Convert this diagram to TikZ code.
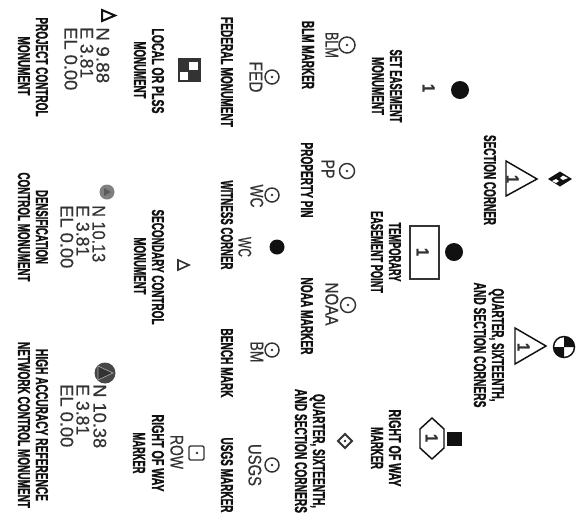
\documentclass[tikz,border=0pt]{standalone}
\usepackage{fontspec}
\setmainfont{Liberation Sans}
\newfontfamily\labfont[FakeBold=1.6]{Liberation Sans Bold}
\newfontfamily\tagfont[FakeBold=0.5]{Liberation Sans}
\definecolor{ink}{HTML}{111111}
\definecolor{soft}{HTML}{333333}
\tikzset{
  x=0.75pt,y=-0.75pt,
  lbl/.style={rotate=-90,inner sep=0,anchor=base,text=ink},
  sm/.style={rotate=-90,inner sep=0,anchor=base west,text=soft},
  sym/.style={draw=soft,line width=1.1pt,fill=white},
  tri/.style={draw=ink,line width=1.1pt,line join=miter},
  cen/.style={rotate=-90,inner sep=0,anchor=base,text=soft},
}
% name, x (centre of the caps), y (centre), length in px, text
\newcommand{\lab}[5]{\node[lbl] (#1) at (#2-6,#3) {\resizebox{\dimexpr #4pt*3/4\relax}{9pt}{\labfont #5}};}
\newcommand{\tagtxt}[5]{\node[cen] (#1) at (#2-6.5,#3) {\resizebox{\dimexpr #4pt*3/4\relax}{9.6pt}{\tagfont #5}};}
\newcommand{\coordtxt}[5]{\node[sm] (#1) at (#2-6.5,#3) {\resizebox{\dimexpr #4pt*3/4\relax}{9.6pt}{\tagfont #5}};}
\newcommand{\markr}[4]{\node[sym,circle,minimum size=#4*0.75pt,inner sep=0] (#1) at (#2,#3) {}; \fill[soft] (#1.center) circle (1.1pt);}
\begin{document}
\begin{tikzpicture}
\useasboundingbox (0,0) rectangle (585,526);
\fill[white] (0,0) rectangle (585,526);
% top column: section corner
\fill[ink] (548,179) -- (560,171.5) -- (572,179) -- (560,186.5) -- cycle;
\fill[white] (563,175.5) -- (568,178) -- (563,180) -- (560,178) -- cycle;
\fill[white] (556,179) -- (559,181) -- (556,183) -- (552,181) -- cycle;
\draw[tri] (506,161) -- (537,179) -- (506,196) -- cycle;
\node[cen] (sc1) at (513-6.5,179) {\resizebox{\dimexpr 8pt*3/4\relax}{9pt}{\labfont 1}};
\lab{scA}{490}{180}{90}{SECTION CORNER}
% set easement
\fill[ink] (460,90) circle (9*0.75pt);
\node[cen] (se1) at (429-6.5,88) {\resizebox{\dimexpr 8pt*3/4\relax}{9pt}{\labfont 1}};
\lab{seA}{396}{86}{73}{SET EASEMENT}
\lab{seB}{378}{86}{58}{MONUMENT}
% temporary easement
\fill[ink] (454,252) circle (9*0.75pt);
\draw[tri,draw=soft] (410,226) rectangle (439,279);
\node[cen] (te1) at (423-6.5,252) {\resizebox{\dimexpr 8pt*3/4\relax}{9pt}{\labfont 1}};
\lab{teA}{395}{252}{59}{TEMPORARY}
\lab{teB}{377}{252}{82}{EASEMENT POINT}
% quarter corners, triangle
\draw[sym,draw=ink] (564,347) circle (10.5*0.75pt);
\fill[ink] (564,347) -- (574.5,347) arc[start angle=0,end angle=90,radius=10.5*0.75pt] -- cycle;
\fill[ink] (564,347) -- (553.5,347) arc[start angle=180,end angle=270,radius=10.5*0.75pt] -- cycle;
\draw[tri] (515,328) -- (546,346) -- (515,364) -- cycle;
\node[cen] (qc1) at (524-6.5,347) {\resizebox{\dimexpr 8pt*3/4\relax}{9pt}{\labfont 1}};
\lab{qcA}{498}{345}{113}{QUARTER, SIXTEENTH,}
\lab{qcB}{480}{345}{125}{AND SECTION CORNERS}
% right of way, hexagon
\fill[ink] (447,432) rectangle (462,446);
\draw[sym,draw=ink,fill=none,line join=round] (432,418) -- (444,429) -- (444,448) -- (432,459) -- (420,448) -- (420,429) -- cycle;
\node[cen] (rw1) at (432-6.5,438) {\resizebox{\dimexpr 8pt*3/4\relax}{9pt}{\labfont 1}};
\lab{rwA}{395}{448}{77}{RIGHT OF WAY}
\lab{rwB}{377}{448}{42}{MARKER}
% row of markers 1
\markr{blm}{347}{45}{16}
\tagtxt{blmT}{332}{45}{26}{BLM}
\lab{blmL}{308}{55}{68}{BLM MARKER}
\markr{pp}{347}{171}{15}
\tagtxt{ppT}{328}{169}{19}{PP}
\lab{ppL}{307}{180}{75}{PROPERTY PIN}
\markr{noaa}{348}{305}{15}
\tagtxt{noaaT}{332}{304}{43}{NOAA}
\lab{noaaL}{307}{316}{77}{NOAA MARKER}
% small diamond
\draw[sym,line width=1.5pt] (338,441) -- (345,434) -- (352,441) -- (345,448) -- cycle;
\fill[soft] (345,441) circle (1.1pt);
\lab{sdA}{319}{451}{114}{QUARTER, SIXTEENTH,}
\lab{sdB}{301}{451}{124}{AND SECTION CORNERS}
% row of markers 2
\markr{fed}{272}{77}{14}
\tagtxt{fedT}{256}{77}{31}{FED}
\lab{fedL}{227}{72}{110}{FEDERAL MONUMENT}
\markr{wc}{272}{195}{14}
\tagtxt{wcT}{257}{196}{23}{WC}
\fill[ink] (277,247) circle (7.5*0.75pt);
\tagtxt{wcB}{245}{247}{20}{WC}
\lab{wcL}{227}{225}{89}{WITNESS CORNER}
\markr{bm}{272}{350}{14}
\tagtxt{bmT}{257}{352}{21}{BM}
\lab{bmL}{227}{363}{69}{BENCH MARK}
\markr{usgs}{272}{465}{14}
\tagtxt{usgsT}{255}{465}{42}{USGS}
\lab{usgsL}{227}{475}{75}{USGS MARKER}
% local or PLSS
\fill[soft] (178,58) rectangle (201,82);
\fill[white] (189,62) rectangle (198,70);
\fill[white] (180,72) rectangle (188,80);
\lab{loA}{158}{71}{85}{LOCAL OR PLSS}
\lab{loB}{140}{70}{57}{MONUMENT}
% secondary control
\draw[tri,line width=1.2pt,draw=soft] (178,260) -- (189,265) -- (178,270) -- cycle;
\lab{scoA}{158}{267}{115}{SECONDARY CONTROL}
\lab{scoB}{140}{266}{57}{MONUMENT}
% right of way marker
\draw[sym,rounded corners=1pt] (189,446) rectangle (204,460);
\fill[soft] (197,453) circle (1.1pt);
\tagtxt{rowT}{177}{452}{34}{ROW}
\lab{rowA}{158}{453}{77}{RIGHT OF WAY}
\lab{rowB}{139}{453}{41}{MARKER}
% project control
\draw[tri,line width=1.5pt] (102,10) -- (115,15.5) -- (102,21) -- cycle;
\coordtxt{pjN}{103}{27}{56}{N 9.88}
\coordtxt{pjE}{87}{27}{51}{E 3.81}
\coordtxt{pjL}{71}{27}{63}{EL 0.00}
\lab{pjA}{42}{67}{99}{PROJECT CONTROL}
\lab{pjB}{24}{66}{59}{MONUMENT}
% densification
\fill[gray] (107,192) circle (7.5*0.75pt);
\fill[soft!80] (104,188) -- (111,192) -- (104,196) -- cycle;
\coordtxt{deN}{99}{205}{57}{N 10.13}
\coordtxt{deE}{83}{205}{51}{E 3.81}
\coordtxt{deL}{67}{205}{63}{EL 0.00}
\lab{deA}{42}{227}{74}{DENSIFICATION}
\lab{deB}{24}{227}{109}{CONTROL MONUMENT}
% high accuracy
\fill[soft!90] (105,373) circle (10.5*0.75pt);
\fill[soft,draw=gray!70,line width=0.5pt] (98,366) -- (113,373) -- (98,380) -- cycle;
\coordtxt{haN}{100}{384}{64}{N 10.38}
\coordtxt{haE}{83}{384}{51}{E 3.81}
\coordtxt{haL}{67}{384}{63}{EL 0.00}
\lab{haA}{42}{425}{152}{HIGH ACCURACY REFERENCE}
\lab{haB}{24}{425}{166}{NETWORK CONTROL MONUMENT}
\end{tikzpicture}
\end{document}
